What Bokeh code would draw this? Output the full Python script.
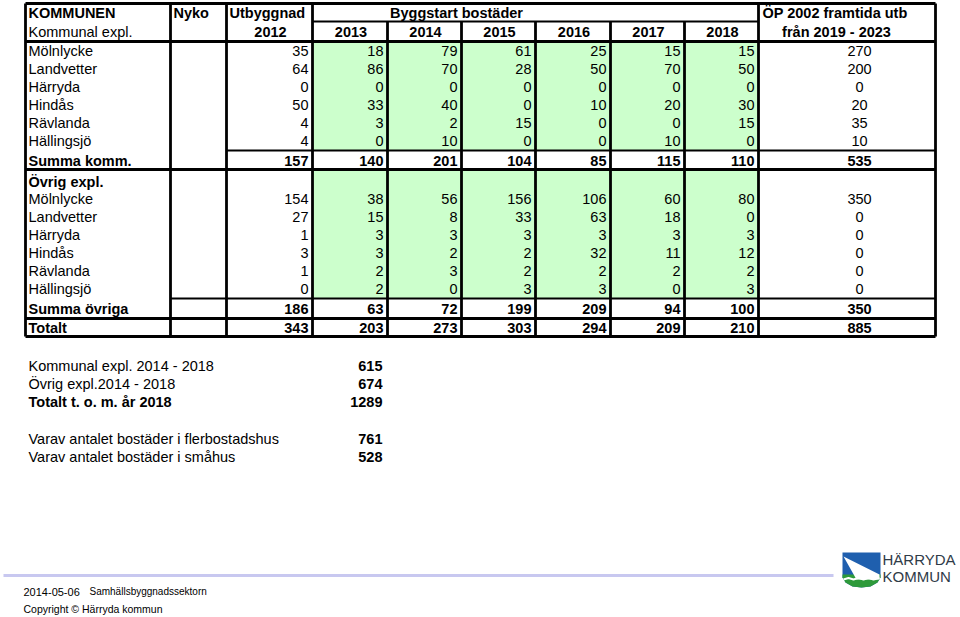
from bokeh.plotting import figure
from bokeh.models import Range1d
from bokeh.embed import file_html
from bokeh.resources import INLINE
from bokeh.core.properties import value

# ---------------- data ----------------
years = ["2012", "2013", "2014", "2015", "2016", "2017", "2018"]
op_title = ["ÖP 2002 framtida utb", "från 2019 - 2023"]
places = ["Mölnlycke", "Landvetter", "Härryda", "Hindås", "Rävlanda", "Hällingsjö"]

komm_molnlycke = [35, 18, 79, 61, 25, 15, 15, 270]
komm_landvetter = [64, 86, 70, 28, 50, 70, 50, 200]
komm_harryda = [0, 0, 0, 0, 0, 0, 0, 0]
komm_hindas = [50, 33, 40, 0, 10, 20, 30, 20]
komm_ravlanda = [4, 3, 2, 15, 0, 0, 15, 35]
komm_hallingsjo = [4, 0, 10, 0, 0, 10, 0, 10]
summa_komm = [157, 140, 201, 104, 85, 115, 110, 535]

ovr_molnlycke = [154, 38, 56, 156, 106, 60, 80, 350]
ovr_landvetter = [27, 15, 8, 33, 63, 18, 0, 0]
ovr_harryda = [1, 3, 3, 3, 3, 3, 3, 0]
ovr_hindas = [3, 3, 2, 2, 32, 11, 12, 0]
ovr_ravlanda = [1, 2, 3, 2, 2, 2, 2, 0]
ovr_hallingsjo = [0, 2, 0, 3, 3, 0, 3, 0]
summa_ovriga = [186, 63, 72, 199, 209, 94, 100, 350]
totalt = [343, 203, 273, 303, 294, 209, 210, 885]

summary_labels = ["Kommunal expl. 2014 - 2018", "Övrig expl.2014 - 2018", "Totalt t. o. m. år 2018",
                  "Varav antalet bostäder i flerbostadshus", "Varav antalet bostäder i småhus"]
summary_values = [615, 674, 1289, 761, 528]

footer_date = "2014-05-06"
footer_dept = "Samhällsbyggnadssektorn"
footer_copy = "Copyright © Härryda kommun"

komm_rows = [komm_molnlycke, komm_landvetter, komm_harryda, komm_hindas, komm_ravlanda, komm_hallingsjo]
ovr_rows = [ovr_molnlycke, ovr_landvetter, ovr_harryda, ovr_hindas, ovr_ravlanda, ovr_hallingsjo]

# ---------------- layout ----------------
FONT = "Liberation Sans"
FS = "14.5px"
GREEN = "#ccffcc"

col_b = [25, 170, 226, 312, 387, 461, 535, 610, 684, 758, 935]
val_right = col_b[3:10]          # right borders of 2012..2018 columns
op_center = 859
top, hdr_mid, hdr_bot = 3, 21, 41
row_h = 18
komm_top = hdr_bot
summa_k_top, summa_k_bot = 150, 169
ovr_rows_top = 189
summa_o_top, tot_top, bottom = 298, 318, 336

p = figure(width=960, height=617, x_range=Range1d(0, 960), y_range=Range1d(617, 0),
           output_backend="svg", toolbar_location=None, min_border=0,
           x_axis_type=None, y_axis_type=None)
p.grid.visible = False
p.outline_line_color = None
p.background_fill_color = "white"
p.border_fill_color = "white"


def txt(xs, ys, texts, align, bold=False, size=FS, color="black"):
    p.text(x=xs, y=ys, text=texts, text_align=align, text_baseline="middle",
           text_font=value(FONT), text_font_size=size,
           text_font_style="bold" if bold else "normal", text_color=color)


# green fill areas
p.quad(left=[col_b[3]], right=[col_b[9]], top=[komm_top], bottom=[summa_k_top],
       fill_color=GREEN, line_color=None)
p.quad(left=[col_b[3]], right=[col_b[9]], top=[summa_k_bot], bottom=[summa_o_top],
       fill_color=GREEN, line_color=None)

# grid lines
vx0, vy0, vx1, vy1 = [], [], [], []
for i, x in enumerate(col_b):
    vx0.append(x); vx1.append(x)
    vy0.append(hdr_mid if 4 <= i <= 8 else top)
    vy1.append(bottom)
p.segment(x0=vx0, y0=vy0, x1=vx1, y1=vy1, line_color="black", line_width=2.8)

hx0 = [col_b[0], col_b[3], col_b[0], col_b[2], col_b[0], col_b[1], col_b[0], col_b[0]]
hx1 = [col_b[10], col_b[9], col_b[10], col_b[10], col_b[10], col_b[10], col_b[10], col_b[10]]
hy = [top, hdr_mid, hdr_bot, summa_k_top, summa_k_bot, summa_o_top, tot_top, bottom]
hw = [2.8, 2, 3, 2, 3, 2, 3, 2.8]
for a, b, y, w in zip(hx0, hx1, hy, hw):
    p.segment(x0=[a], y0=[y], x1=[b], y1=[y], line_color="black", line_width=w)

# header texts
txt([28, 173, 229], [12, 12, 12], ["KOMMUNEN", "Nyko", "Utbyggnad"], "left", bold=True)
txt([456], [12], ["Byggstart bostäder"], "center", bold=True)
txt([762], [12], [op_title[0]], "left", bold=True)
txt([28], [31], ["Kommunal expl."], "left")
yc = [(col_b[i + 2] + col_b[i + 3]) / 2 + 1 for i in range(len(years))]
txt(yc, [31] * len(years), years, "center", bold=True)
txt([836], [31], [op_title[1]], "center", bold=True)


def value_row(vals, y, bold=False):
    txt([r - 4 for r in val_right], [y] * 7, [str(v) for v in vals[:7]], "right", bold=bold)
    txt([op_center], [y], [str(vals[7])], "center", bold=bold)


# kommunal rows
for i, (name, vals) in enumerate(zip(places, komm_rows)):
    y = komm_top + row_h / 2 + row_h * i
    txt([28], [y], [name], "left")
    value_row(vals, y)
txt([28], [160], ["Summa komm."], "left", bold=True)
value_row(summa_komm, 160, bold=True)

# övrig rows
txt([28], [181], ["Övrig expl."], "left", bold=True)
for i, (name, vals) in enumerate(zip(places, ovr_rows)):
    y = ovr_rows_top + row_h / 2 + row_h * i
    txt([28], [y], [name], "left")
    value_row(vals, y)
txt([28], [308], ["Summa övriga"], "left", bold=True)
value_row(summa_ovriga, 308, bold=True)
txt([28], [327], ["Totalt"], "left", bold=True)
value_row(totalt, 327, bold=True)

# summary block
sy = [365, 383, 401, 438, 456]
for lab, v, y, b in zip(summary_labels, summary_values, sy, [False, False, True, False, False]):
    txt([28], [y], [lab], "left", bold=b)
    txt([382], [y], [str(v)], "right", bold=True)

# footer
p.segment(x0=[3], y0=[575], x1=[833], y1=[575], line_color="#c8c8f0", line_width=3)
txt([23], [591], [footer_date], "left", size="11px")
txt([89], [591], [footer_dept], "left", size="10px")
txt([23], [608], [footer_copy], "left", size="10.5px")

# logo
p.patch(x=[842, 880, 880, 877, 870, 861, 852, 845, 842],
        y=[552, 552, 577, 582, 586, 587, 586, 582, 577], fill_color="#1f5fae", line_color=None)
p.patch(x=[842, 880, 880, 877, 870, 861, 852, 845, 842],
        y=[574, 574, 577, 582, 586, 587, 586, 582, 577], fill_color="#2e9a3a", line_color=None)
p.patch(x=[843, 879, 879, 856], y=[556, 574, 579, 579], fill_color="white", line_color=None)
p.line(x=[843, 848, 853, 858, 863, 868, 873, 879], y=[579, 577.5, 579, 577.5, 579, 577.5, 579, 577.5],
       line_color="white", line_width=2)
txt([882, 882], [559, 576], ["HÄRRYDA", "KOMMUN"], "left", size="15px", color="#2f3b48")

open("out.html", "w").write(file_html(p, INLINE))
